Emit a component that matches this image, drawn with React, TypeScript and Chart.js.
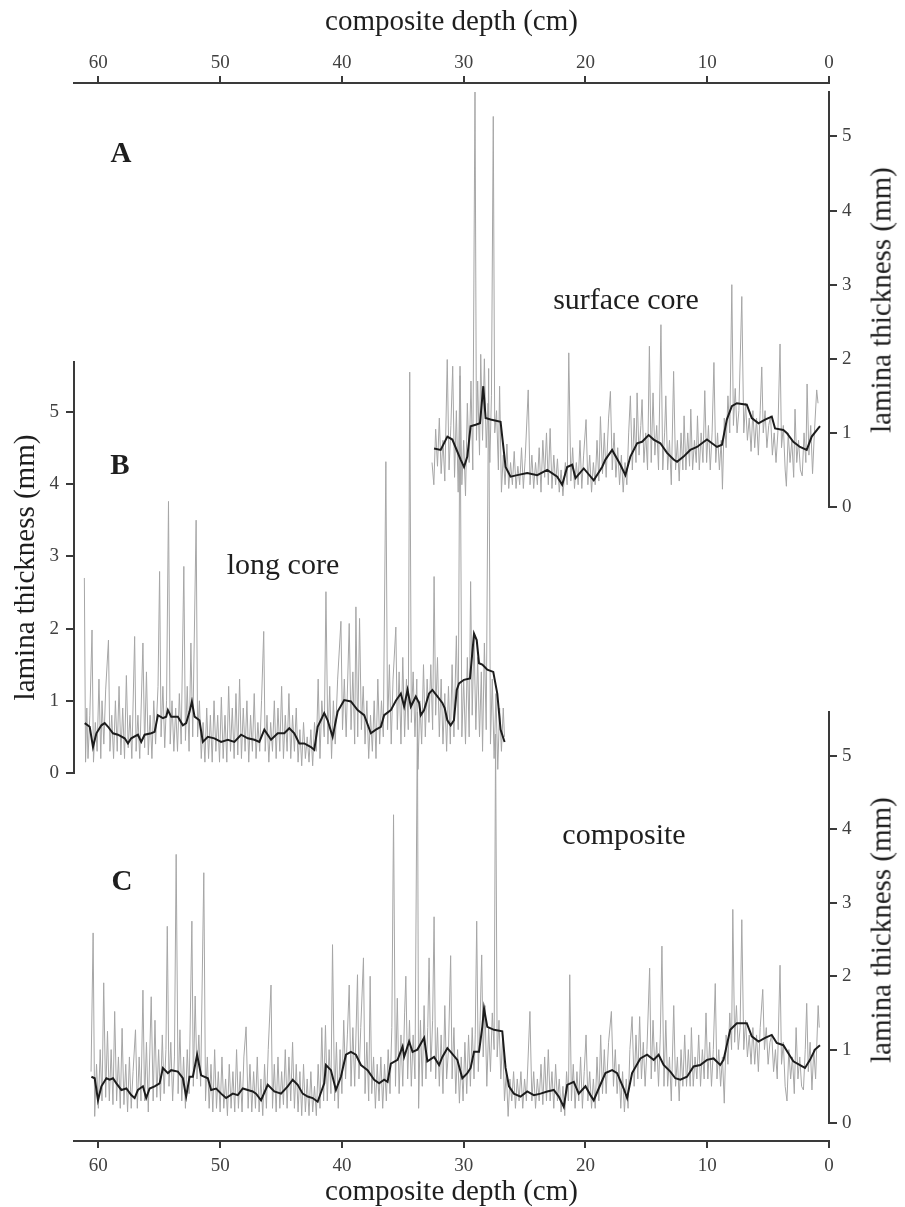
import React, { useEffect, useRef } from "react";
import { Chart, registerables } from "chart.js";

Chart.register(...registerables);

// ---------------- data ----------------
const depthTicks = [0, 10, 20, 30, 40, 50, 60];
const thicknessTicks = [0, 1, 2, 3, 4, 5];
const depthMax = 62;

// A: surface core, smoothed (black)
const surfaceSmooth: [number, number][] = [
  [32.43, 0.79], [31.89, 0.77], [31.34, 0.95], [30.93, 0.91], [30.25, 0.64], [29.97, 0.54], [29.7, 0.68],
  [29.43, 1.09], [29.02, 1.11], [28.66, 1.13], [28.39, 1.63], [28.2, 1.2], [27.79, 1.18], [26.97, 1.15],
  [26.56, 0.54], [26.15, 0.41], [25.6, 0.43], [24.78, 0.46], [23.96, 0.43], [23.14, 0.5], [22.32, 0.41],
  [21.91, 0.3], [21.5, 0.54], [21.09, 0.57], [20.82, 0.39], [20.14, 0.52], [19.32, 0.36], [18.63, 0.54],
  [18.36, 0.64], [17.81, 0.77], [17.13, 0.57], [16.72, 0.43], [16.31, 0.68], [15.76, 0.86], [15.35, 0.88],
  [14.81, 0.97], [14.4, 0.91], [13.85, 0.86], [13.3, 0.73], [12.76, 0.64], [12.48, 0.61], [11.94, 0.68],
  [11.39, 0.77], [10.84, 0.81], [10.02, 0.91], [9.61, 0.86], [9.2, 0.81], [8.79, 0.84], [8.39, 1.18],
  [7.98, 1.36], [7.57, 1.4], [6.75, 1.38], [6.34, 1.2], [5.79, 1.13], [5.25, 1.18], [4.7, 1.22],
  [4.43, 1.06], [3.75, 1.04], [3.47, 1.0], [2.93, 0.88], [2.38, 0.81], [1.83, 0.77], [1.42, 0.95], [0.74, 1.09],
];

// A: surface core, raw laminae (grey)
const surfaceRaw: [number, number][] = [
  [32.6, 0.6], [32.45, 0.3], [32.3, 1.05], [32.15, 0.55], [32.0, 1.2], [31.85, 0.45], [31.7, 0.9], [31.55, 0.35],
  [31.35, 1.99], [31.2, 0.5], [31.05, 1.1], [30.9, 1.9], [30.75, 0.4], [30.6, 1.3], [30.45, 0.2], [30.3, 1.9],
  [30.15, 0.3], [30.0, 0.9], [29.85, 0.15], [29.7, 1.4], [29.55, 0.6], [29.4, 1.7], [29.25, 0.5], [29.07, 5.66],
  [28.95, 0.9], [28.85, 1.7], [28.7, 0.7], [28.6, 2.06], [28.45, 0.9], [28.3, 2.0], [28.15, 0.8], [28.0, 1.4],
  [27.85, 0.6], [27.72, 1.5], [27.57, 5.27], [27.45, 1.0], [27.3, 1.3], [27.15, 0.5], [27.05, 1.63], [26.9, 0.2],
  [26.75, 0.7], [26.6, 0.3], [26.45, 0.85], [26.3, 0.25], [26.15, 0.6], [26.0, 0.3], [25.85, 0.75], [25.7, 0.25],
  [25.55, 0.55], [25.4, 0.3], [25.25, 0.8], [25.1, 0.25], [24.95, 0.65], [24.7, 1.58], [24.55, 0.3], [24.4, 0.7],
  [24.25, 0.25], [24.1, 0.6], [23.95, 0.3], [23.8, 0.8], [23.65, 0.2], [23.5, 0.9], [23.35, 0.4], [23.2, 1.0],
  [23.05, 0.3], [22.9, 1.06], [22.75, 0.25], [22.6, 0.7], [22.45, 0.3], [22.3, 0.65], [22.15, 0.2], [22.0, 0.5],
  [21.85, 0.15], [21.65, 0.6], [21.5, 0.3], [21.37, 2.08], [21.2, 0.35], [21.05, 0.8], [20.9, 0.25], [20.75, 0.6],
  [20.6, 0.3], [20.45, 0.9], [20.3, 0.25], [20.15, 0.7], [19.95, 1.18], [19.8, 0.3], [19.65, 0.7], [19.5, 0.2],
  [19.35, 0.6], [19.2, 0.3], [19.05, 0.9], [18.9, 0.35], [18.77, 1.22], [18.6, 0.45], [18.45, 1.0], [18.3, 0.4],
  [18.1, 1.2], [17.95, 1.56], [17.8, 0.5], [17.65, 1.0], [17.5, 0.4], [17.35, 0.8], [17.2, 0.3], [17.05, 0.7],
  [16.9, 0.2], [16.75, 0.6], [16.6, 0.3], [16.45, 1.0], [16.31, 1.5], [16.15, 0.5], [16.0, 1.2], [15.85, 0.6],
  [15.76, 1.54], [15.6, 0.7], [15.45, 1.1], [15.35, 1.45], [15.2, 0.6], [15.05, 1.0], [14.9, 0.5], [14.75, 2.17],
  [14.6, 0.6], [14.45, 1.54], [14.3, 0.7], [14.15, 1.1], [14.0, 0.5], [13.8, 2.46], [13.65, 0.5], [13.5, 1.0],
  [13.4, 1.5], [13.25, 0.5], [13.1, 0.9], [12.95, 0.3], [12.76, 1.83], [12.6, 0.5], [12.45, 0.9], [12.3, 0.35],
  [12.15, 1.0], [12.0, 0.5], [11.9, 1.23], [11.75, 0.5], [11.6, 1.0], [11.45, 0.55], [11.35, 1.32], [11.2, 0.5],
  [11.05, 0.9], [10.9, 0.6], [10.8, 1.23], [10.65, 0.5], [10.5, 1.0], [10.35, 0.6], [10.2, 1.57], [10.05, 0.6],
  [9.9, 1.1], [9.75, 0.5], [9.6, 1.0], [9.45, 1.95], [9.3, 0.6], [9.15, 1.0], [9.0, 0.5], [8.85, 0.9],
  [8.75, 0.24], [8.6, 1.2], [8.45, 0.8], [8.3, 1.5], [8.15, 1.0], [7.98, 3.0], [7.85, 1.1], [7.7, 1.6],
  [7.55, 1.0], [7.4, 1.3], [7.16, 2.84], [7.0, 1.0], [6.85, 1.4], [6.7, 0.9], [6.55, 1.2], [6.4, 0.75],
  [6.25, 1.3], [6.1, 0.8], [5.95, 1.2], [5.8, 0.7], [5.65, 1.3], [5.52, 1.89], [5.4, 1.0], [5.25, 1.3],
  [5.1, 0.8], [4.95, 1.1], [4.8, 1.23], [4.65, 0.7], [4.5, 1.0], [4.35, 0.6], [4.2, 1.0], [4.02, 2.2],
  [3.9, 0.8], [3.75, 1.1], [3.6, 0.5], [3.5, 0.28], [3.35, 1.0], [3.2, 0.6], [3.05, 0.9], [2.9, 0.4],
  [2.79, 1.32], [2.65, 0.6], [2.5, 0.9], [2.35, 0.5], [2.2, 0.42], [2.05, 1.0], [1.9, 0.6], [1.8, 1.66],
  [1.65, 0.7], [1.5, 1.1], [1.35, 0.45], [1.2, 1.0], [1.01, 1.58], [0.9, 1.4],
];

// B: long core, smoothed (black)
const longSmooth: [number, number][] = [
  [61.12, 0.69], [60.71, 0.64], [60.44, 0.36], [60.16, 0.55], [59.75, 0.66], [59.48, 0.69], [59.2, 0.64],
  [58.8, 0.55], [58.39, 0.53], [57.84, 0.48], [57.57, 0.41], [57.3, 0.48], [56.75, 0.53], [56.48, 0.43],
  [56.2, 0.53], [55.66, 0.55], [55.38, 0.57], [55.11, 0.8], [54.7, 0.76], [54.43, 0.78], [54.29, 0.87],
  [54.02, 0.78], [53.47, 0.78], [53.06, 0.66], [52.79, 0.69], [52.51, 0.85], [52.32, 0.99], [52.1, 0.78],
  [51.7, 0.73], [51.42, 0.43], [51.01, 0.5], [50.47, 0.48], [49.92, 0.43], [49.37, 0.46], [48.83, 0.43],
  [48.28, 0.53], [47.73, 0.48], [47.19, 0.46], [46.78, 0.43], [46.37, 0.6], [45.82, 0.46], [45.27, 0.55],
  [44.73, 0.55], [44.32, 0.62], [43.91, 0.55], [43.5, 0.41], [43.09, 0.41], [42.54, 0.36], [42.27, 0.32],
  [41.99, 0.64], [41.45, 0.83], [41.17, 0.73], [40.76, 0.5], [40.35, 0.85], [39.81, 1.01], [39.26, 0.99],
  [38.71, 0.87], [38.17, 0.8], [37.62, 0.55], [37.21, 0.6], [36.8, 0.64], [36.53, 0.8], [35.98, 0.87],
  [35.57, 1.0], [35.16, 1.1], [34.89, 0.92], [34.61, 1.15], [34.34, 0.92], [33.93, 1.06], [33.66, 0.97],
  [33.52, 0.8], [33.25, 0.87], [32.84, 1.1], [32.57, 1.15], [32.16, 1.06], [31.75, 0.97], [31.56, 0.9],
  [31.34, 0.73], [31.07, 0.66], [30.8, 0.73], [30.57, 1.15], [30.38, 1.24], [29.98, 1.29], [29.48, 1.31],
  [29.15, 1.93], [28.93, 1.84], [28.74, 1.52], [28.47, 1.5], [28.06, 1.43], [27.57, 1.4], [27.24, 1.1],
  [26.97, 0.6], [26.64, 0.43],
];

// B: long core, raw laminae (grey)
const longRaw: [number, number][] = [
  [61.15, 2.7], [61.05, 0.15], [60.95, 0.9], [60.85, 0.2], [60.7, 0.8], [60.52, 1.98], [60.4, 0.15], [60.25, 0.7],
  [60.1, 0.3], [59.95, 1.3], [59.8, 0.2], [59.7, 1.0], [59.55, 0.4], [59.4, 1.15], [59.17, 1.84], [59.05, 0.3],
  [58.9, 0.8], [58.75, 0.2], [58.6, 1.0], [58.45, 0.3], [58.3, 1.2], [58.15, 0.25], [58.0, 0.9], [57.85, 0.2],
  [57.7, 1.35], [57.55, 0.35], [57.4, 0.8], [57.25, 0.2], [57.02, 1.89], [56.9, 0.3], [56.75, 0.8], [56.6, 0.2],
  [56.34, 1.8], [56.2, 0.35], [56.05, 1.4], [55.9, 0.25], [55.75, 0.8], [55.6, 0.2], [55.45, 1.0], [55.3, 0.4],
  [55.1, 1.2], [54.97, 2.79], [54.85, 0.5], [54.7, 1.2], [54.55, 0.35], [54.4, 1.0], [54.24, 3.76], [54.1, 0.4],
  [53.95, 1.0], [53.8, 0.3], [53.65, 0.9], [53.5, 0.3], [53.35, 1.1], [53.2, 0.4], [52.98, 2.86], [52.85, 0.45],
  [52.7, 1.2], [52.55, 0.3], [52.4, 1.8], [52.25, 0.5], [51.97, 3.5], [51.85, 0.5], [51.7, 1.0], [51.55, 0.2],
  [51.4, 0.7], [51.25, 0.15], [51.1, 0.9], [50.95, 0.2], [50.8, 0.8], [50.65, 0.15], [50.5, 1.0], [50.35, 0.3],
  [50.2, 0.8], [50.05, 0.15], [49.9, 1.05], [49.75, 0.2], [49.6, 0.8], [49.45, 0.15], [49.3, 1.2], [49.15, 0.3],
  [49.0, 0.9], [48.85, 0.2], [48.7, 1.1], [48.55, 0.25], [48.4, 1.3], [48.25, 0.2], [48.1, 0.9], [47.95, 0.3],
  [47.8, 1.0], [47.65, 0.15], [47.5, 0.8], [47.35, 0.3], [47.2, 1.1], [47.05, 0.2], [46.9, 0.7], [46.75, 0.3],
  [46.6, 1.0], [46.42, 1.96], [46.3, 0.3], [46.15, 0.8], [46.0, 0.15], [45.85, 0.7], [45.7, 0.3], [45.55, 1.0],
  [45.4, 0.2], [45.25, 0.9], [45.1, 0.3], [44.95, 1.2], [44.8, 0.2], [44.65, 0.8], [44.5, 0.3], [44.35, 1.1],
  [44.2, 0.2], [44.05, 0.8], [43.9, 0.3], [43.75, 0.9], [43.6, 0.15], [43.45, 0.6], [43.3, 0.1], [43.15, 0.7],
  [43.0, 0.2], [42.85, 0.5], [42.7, 0.15], [42.55, 0.6], [42.4, 0.1], [42.25, 0.7], [42.1, 0.3], [41.95, 1.3],
  [41.8, 0.2], [41.65, 1.0], [41.45, 0.5], [41.31, 2.51], [41.15, 0.4], [41.0, 1.2], [40.85, 0.2], [40.7, 1.0],
  [40.55, 0.4], [40.35, 1.3], [40.08, 2.1], [39.95, 0.6], [39.8, 1.3], [39.65, 0.5], [39.4, 2.07], [39.25, 0.6],
  [39.1, 1.4], [38.95, 0.4], [38.85, 2.3], [38.7, 0.5], [38.55, 2.14], [38.4, 0.6], [38.25, 1.2], [38.1, 0.4],
  [37.95, 1.0], [37.8, 0.2], [37.65, 0.8], [37.5, 0.3], [37.35, 1.0], [37.2, 0.2], [37.05, 1.3], [36.9, 0.4],
  [36.75, 1.0], [36.6, 0.5], [36.39, 4.31], [36.25, 0.6], [36.1, 1.5], [35.95, 0.4], [35.8, 1.3], [35.57, 2.02],
  [35.45, 0.6], [35.3, 1.4], [35.15, 0.4], [35.0, 1.6], [34.85, 0.5], [34.7, 1.3], [34.55, 0.6], [34.43, 5.55],
  [34.3, 0.7], [34.15, 1.4], [34.0, 0.5], [33.85, 1.3], [33.75, 0.05], [33.6, 1.0], [33.45, 0.4], [33.3, 1.5],
  [33.15, 0.5], [33.0, 1.3], [32.85, 0.7], [32.7, 1.5], [32.55, 0.6], [32.43, 2.72], [32.3, 0.8], [32.15, 1.6],
  [32.0, 0.5], [31.85, 1.3], [31.7, 0.4], [31.55, 1.1], [31.4, 0.3], [31.25, 1.2], [31.1, 0.4], [30.95, 1.5],
  [30.8, 0.5], [30.6, 1.9], [30.45, 0.6], [30.3, 5.5], [30.15, 0.5], [30.0, 1.3], [29.85, 0.4], [29.7, 1.6],
  [29.55, 0.5], [29.43, 2.65], [29.3, 0.8], [29.15, 1.9], [29.0, 0.6], [28.85, 1.6], [28.7, 0.5], [28.55, 1.4],
  [28.45, 0.3], [28.3, 1.8], [28.15, 0.6], [27.95, 5.6], [27.8, 0.4], [27.65, 1.3], [27.5, 0.2], [27.35, 1.1],
  [27.2, 0.05], [27.05, 0.9], [26.9, 0.3], [26.75, 0.9], [26.65, 0.5],
];

// C: composite, smoothed (black)
const compositeSmooth: [number, number][] = [
  [60.57, 0.63], [60.3, 0.61], [60.03, 0.31], [59.75, 0.5], [59.34, 0.61], [59.07, 0.59], [58.8, 0.61],
  [58.52, 0.54], [58.11, 0.45], [57.7, 0.47], [57.3, 0.38], [57.02, 0.34], [56.75, 0.45], [56.34, 0.5],
  [56.07, 0.34], [55.79, 0.47], [55.38, 0.5], [54.97, 0.54], [54.7, 0.75], [54.29, 0.68], [54.02, 0.72],
  [53.47, 0.7], [53.06, 0.61], [52.79, 0.36], [52.51, 0.63], [52.24, 0.63], [51.89, 0.93], [51.56, 0.65],
  [51.01, 0.61], [50.74, 0.45], [50.33, 0.47], [49.92, 0.4], [49.51, 0.34], [48.96, 0.4], [48.55, 0.38],
  [48.14, 0.47], [47.73, 0.45], [47.32, 0.43], [47.05, 0.4], [46.64, 0.31], [46.09, 0.52], [45.55, 0.43],
  [45.0, 0.4], [44.45, 0.5], [44.04, 0.59], [43.63, 0.52], [43.22, 0.4], [42.81, 0.36], [42.4, 0.34],
  [41.99, 0.29], [41.45, 0.54], [41.31, 0.79], [40.9, 0.72], [40.49, 0.45], [40.08, 0.63], [39.67, 0.93],
  [39.26, 0.97], [38.85, 0.93], [38.44, 0.79], [37.89, 0.72], [37.35, 0.59], [36.94, 0.54], [36.53, 0.59],
  [36.25, 0.56], [35.98, 0.81], [35.43, 0.86], [35.02, 1.04], [34.89, 0.9], [34.48, 1.11], [34.2, 0.97],
  [33.8, 1.0], [33.25, 1.16], [32.98, 0.84], [32.43, 0.9], [32.02, 0.79], [31.75, 0.9], [31.34, 1.02],
  [31.07, 0.97], [30.52, 0.86], [30.11, 0.61], [29.7, 0.68], [29.43, 0.75], [29.15, 0.97], [28.74, 0.97],
  [28.47, 1.31], [28.33, 1.56], [28.06, 1.31], [27.51, 1.27], [26.83, 1.25], [26.56, 0.75], [26.28, 0.5],
  [25.88, 0.4], [25.33, 0.36], [24.78, 0.43], [24.24, 0.38], [23.69, 0.4], [23.14, 0.43], [22.6, 0.45],
  [22.19, 0.36], [21.78, 0.22], [21.5, 0.52], [20.96, 0.56], [20.55, 0.4], [20.0, 0.5], [19.59, 0.38],
  [19.32, 0.31], [18.91, 0.47], [18.36, 0.68], [17.81, 0.72], [17.4, 0.68], [16.86, 0.47], [16.58, 0.34],
  [16.17, 0.68], [15.49, 0.88], [14.94, 0.93], [14.4, 0.86], [13.99, 0.93], [13.58, 0.79], [13.03, 0.7],
  [12.62, 0.61], [12.21, 0.59], [11.66, 0.63], [11.12, 0.77], [10.57, 0.79], [10.02, 0.86], [9.48, 0.88],
  [8.93, 0.79], [8.66, 0.86], [8.11, 1.27], [7.57, 1.36], [6.75, 1.36], [6.34, 1.18], [5.79, 1.11],
  [5.25, 1.16], [4.7, 1.2], [4.29, 1.09], [3.75, 1.06], [3.34, 0.95], [2.93, 0.84], [2.38, 0.79],
  [1.97, 0.75], [1.56, 0.86], [1.15, 1.0], [0.74, 1.06],
];

// C: composite, raw laminae (grey)
const compositeRaw: [number, number][] = [
  [60.6, 0.7], [60.43, 2.59], [60.3, 0.09], [60.15, 0.8], [60.0, 0.2], [59.85, 1.0], [59.7, 0.3], [59.56, 1.91],
  [59.4, 0.35], [59.25, 1.25], [59.1, 0.3], [58.95, 1.0], [58.8, 0.25], [58.66, 1.52], [58.5, 0.3], [58.35, 0.9],
  [58.2, 0.2], [58.05, 1.29], [57.9, 0.25], [57.75, 0.8], [57.6, 0.15], [57.45, 0.9], [57.3, 0.2], [57.15, 0.7],
  [56.95, 1.27], [56.8, 0.2], [56.65, 0.9], [56.5, 0.3], [56.34, 1.81], [56.2, 0.3], [56.05, 1.1], [55.9, 0.15],
  [55.66, 1.72], [55.5, 0.3], [55.35, 1.4], [55.2, 0.35], [55.05, 1.0], [54.9, 0.3], [54.75, 1.2], [54.6, 0.4],
  [54.45, 1.0], [54.34, 2.68], [54.2, 0.5], [54.05, 1.1], [53.9, 0.3], [53.75, 0.9], [53.61, 3.66], [53.45, 0.4],
  [53.3, 1.27], [53.15, 0.3], [53.0, 0.9], [52.85, 0.2], [52.7, 1.0], [52.55, 0.4], [52.32, 2.75], [52.2, 0.5],
  [52.05, 1.73], [51.9, 0.6], [51.75, 1.2], [51.6, 0.5], [51.34, 3.41], [51.2, 0.3], [51.05, 0.9], [50.9, 0.2],
  [50.75, 0.8], [50.6, 0.15], [50.45, 1.0], [50.3, 0.2], [50.15, 0.7], [50.0, 0.15], [49.85, 0.9], [49.7, 0.2],
  [49.55, 0.6], [49.4, 0.1], [49.25, 0.8], [49.1, 0.2], [48.95, 0.7], [48.8, 0.15], [48.65, 1.0], [48.5, 0.2],
  [48.35, 0.7], [48.2, 0.15], [48.05, 0.9], [47.87, 1.31], [47.7, 0.2], [47.55, 0.8], [47.4, 0.15], [47.25, 0.7],
  [47.1, 0.2], [46.95, 0.9], [46.8, 0.15], [46.65, 0.6], [46.5, 0.1], [46.35, 0.8], [46.2, 0.2], [46.05, 1.0],
  [45.82, 1.88], [45.7, 0.2], [45.55, 0.8], [45.4, 0.15], [45.25, 0.9], [45.1, 0.2], [44.95, 0.7], [44.8, 0.25],
  [44.65, 1.0], [44.5, 0.2], [44.35, 0.9], [44.2, 0.3], [44.05, 1.1], [43.9, 0.2], [43.75, 0.8], [43.6, 0.15],
  [43.45, 0.7], [43.3, 0.1], [43.15, 0.8], [43.0, 0.15], [42.85, 0.6], [42.7, 0.1], [42.55, 0.7], [42.4, 0.15],
  [42.25, 0.5], [42.1, 0.1], [41.95, 0.8], [41.8, 0.2], [41.65, 1.3], [41.5, 0.3], [41.35, 1.33], [41.2, 0.3],
  [41.05, 1.0], [40.9, 0.4], [40.77, 2.43], [40.6, 0.3], [40.45, 1.1], [40.3, 0.2], [40.15, 1.0], [40.0, 0.4],
  [39.85, 1.4], [39.7, 0.6], [39.55, 1.2], [39.4, 1.88], [39.25, 0.5], [39.1, 1.3], [38.95, 0.5], [38.72, 2.02],
  [38.6, 0.6], [38.45, 1.3], [38.23, 2.25], [38.1, 0.4], [37.95, 1.1], [37.8, 0.3], [37.68, 2.0], [37.55, 0.4],
  [37.4, 0.9], [37.25, 0.2], [37.1, 0.8], [36.95, 0.3], [36.8, 0.9], [36.65, 0.2], [36.5, 0.8], [36.35, 0.3],
  [36.2, 1.0], [36.05, 0.4], [35.9, 1.3], [35.76, 4.2], [35.6, 0.5], [35.45, 1.7], [35.3, 0.4], [35.15, 1.2],
  [35.0, 0.5], [34.85, 1.5], [34.75, 2.0], [34.6, 0.6], [34.45, 1.4], [34.3, 0.5], [34.15, 1.2], [34.0, 0.6],
  [33.8, 5.6], [33.7, 0.2], [33.55, 1.4], [33.4, 0.5], [33.25, 1.6], [33.1, 0.6], [32.95, 1.3], [32.84, 2.25],
  [32.7, 0.7], [32.55, 1.4], [32.43, 2.81], [32.3, 0.6], [32.15, 1.3], [32.0, 0.5], [31.85, 1.2], [31.7, 0.4],
  [31.55, 1.6], [31.4, 0.6], [31.25, 1.0], [31.07, 2.28], [30.95, 0.6], [30.8, 1.3], [30.65, 0.4], [30.5, 1.0],
  [30.35, 0.27], [30.2, 0.9], [30.05, 0.3], [29.9, 1.1], [29.75, 0.4], [29.6, 1.2], [29.45, 0.5], [29.3, 1.3],
  [29.15, 0.6], [29.05, 1.2], [28.93, 2.75], [28.8, 0.7], [28.65, 1.4], [28.52, 2.29], [28.4, 0.9], [28.25, 1.6],
  [28.1, 0.5], [27.95, 1.3], [27.8, 0.7], [27.65, 1.5], [27.5, 1.0], [27.38, 5.3], [27.25, 0.9], [27.1, 1.4],
  [26.95, 0.6], [26.8, 1.2], [26.65, 0.3], [26.5, 0.7], [26.35, 0.09], [26.2, 0.6], [26.05, 0.3], [25.9, 0.7],
  [25.75, 0.2], [25.6, 0.6], [25.45, 0.3], [25.3, 0.7], [25.15, 0.2], [25.0, 0.6], [24.85, 0.3], [24.56, 1.52],
  [24.4, 0.3], [24.25, 0.7], [24.1, 0.2], [23.95, 0.6], [23.8, 0.3], [23.65, 0.8], [23.5, 0.25], [23.35, 0.9],
  [23.2, 0.3], [23.05, 1.0], [22.9, 0.3], [22.75, 0.7], [22.6, 0.2], [22.45, 0.8], [22.3, 0.3], [22.15, 0.6],
  [22.0, 0.15], [21.85, 0.5], [21.7, 0.1], [21.55, 0.7], [21.4, 0.3], [21.29, 2.02], [21.15, 0.3], [21.0, 0.8],
  [20.85, 0.2], [20.7, 0.7], [20.55, 0.3], [20.4, 0.9], [20.25, 0.2], [20.1, 0.7], [19.95, 1.2], [19.8, 0.3],
  [19.65, 0.7], [19.5, 0.2], [19.35, 0.6], [19.2, 0.2], [19.05, 0.9], [18.9, 0.3], [18.75, 1.2], [18.6, 0.4],
  [18.45, 1.0], [18.3, 0.4], [18.1, 1.1], [17.87, 1.52], [17.7, 0.5], [17.55, 1.0], [17.4, 0.4], [17.25, 0.8],
  [17.1, 0.2], [16.95, 0.7], [16.8, 0.15], [16.65, 0.6], [16.5, 0.2], [16.35, 1.0], [16.17, 1.45], [16.0, 0.5],
  [15.85, 1.2], [15.7, 0.6], [15.55, 1.45], [15.4, 0.6], [15.25, 1.1], [15.1, 0.5], [14.95, 1.0], [14.73, 2.11],
  [14.6, 0.6], [14.45, 1.4], [14.3, 0.7], [14.15, 1.1], [14.0, 0.5], [13.85, 1.2], [13.72, 2.41], [13.55, 0.5],
  [13.4, 1.4], [13.25, 0.5], [13.1, 0.9], [12.95, 0.3], [12.75, 1.6], [12.6, 0.5], [12.45, 0.9], [12.3, 0.3],
  [12.15, 1.0], [12.0, 0.5], [11.85, 1.2], [11.7, 0.5], [11.55, 1.0], [11.4, 0.5], [11.3, 1.3], [11.15, 0.5],
  [11.0, 0.9], [10.85, 0.6], [10.7, 1.2], [10.55, 0.5], [10.4, 1.0], [10.25, 0.6], [10.1, 1.5], [9.95, 0.6],
  [9.8, 1.1], [9.65, 0.5], [9.5, 1.0], [9.34, 1.9], [9.2, 0.6], [9.05, 1.0], [8.9, 0.5], [8.75, 0.9],
  [8.6, 0.27], [8.45, 1.2], [8.3, 0.8], [8.15, 1.5], [8.0, 1.0], [7.9, 2.91], [7.75, 1.1], [7.6, 1.6],
  [7.45, 1.0], [7.3, 1.3], [7.16, 2.77], [7.0, 1.0], [6.85, 1.4], [6.7, 0.9], [6.55, 1.2], [6.4, 0.8],
  [6.25, 1.3], [6.1, 0.8], [5.95, 1.2], [5.8, 0.7], [5.65, 1.3], [5.44, 1.82], [5.3, 1.0], [5.15, 1.3],
  [5.0, 0.8], [4.85, 1.1], [4.7, 1.2], [4.55, 0.7], [4.4, 1.0], [4.25, 0.6], [4.02, 2.15], [3.9, 0.8],
  [3.75, 1.1], [3.6, 0.5], [3.45, 0.3], [3.3, 1.0], [3.15, 0.6], [3.0, 0.9], [2.85, 0.4], [2.7, 1.3],
  [2.55, 0.6], [2.4, 0.9], [2.25, 0.5], [2.1, 0.45], [1.95, 1.0], [1.83, 1.63], [1.7, 0.7], [1.55, 1.1],
  [1.4, 0.45], [1.25, 1.0], [1.1, 0.6], [0.89, 1.6], [0.8, 1.3],
];

// ---------------- layout & style ----------------
const PAGE_W = 905;
const PAGE_H = 1207;
const PLOT_LEFT = 74;
const PLOT_RIGHT = 829;
const TOP_AXIS_Y = 83;
const BOTTOM_AXIS_Y = 1141;
const FONT = "'Liberation Serif', 'Times New Roman', serif";
const AXIS_COLOR = "#3a3a3a";
const TICK_COLOR = "#404040";
const TEXT_COLOR = "#1e1e1e";
const GREY = "#a6a6a6";
const BLACK = "#1c1c1c";
const RIGHT_AXIS_W = 40;

const fixedTicks = (values: number[]) => (scale: any) => {
  scale.ticks = values.map((v) => ({ value: v }));
};

const toPoints = (arr: [number, number][]) => arr.map(([x, y]) => ({ x, y }));

function yAxis(position: "left" | "right", max: number, width: number, title: any) {
  return {
    type: "linear",
    position,
    min: 0,
    max,
    afterBuildTicks: fixedTicks(thicknessTicks),
    afterFit: (s: any) => {
      s.width = width;
    },
    ticks: {
      font: { family: FONT, size: 19 },
      color: TICK_COLOR,
      padding: position === "left" ? 7 : 5,
    },
    grid: {
      display: true,
      drawOnChartArea: false,
      drawTicks: true,
      tickLength: 8,
      color: AXIS_COLOR,
      lineWidth: 2,
    },
    border: { display: true, color: AXIS_COLOR, width: 2 },
    title,
  };
}

function panelConfig(p: {
  raw: [number, number][];
  smooth: [number, number][];
  side: "left" | "right";
  top: number;
  bottom: number;
  yMax: number;
}) {
  const leftTitle = {
    display: true,
    text: "lamina thickness (mm)",
    font: { family: FONT, size: 29 },
    color: TEXT_COLOR,
    padding: { top: 9, bottom: 0 },
  };
  const padding =
    p.side === "left"
      ? { left: 0, right: PAGE_W - PLOT_RIGHT, top: p.top, bottom: PAGE_H - p.bottom }
      : { left: PLOT_LEFT, right: PAGE_W - PLOT_RIGHT - RIGHT_AXIS_W, top: p.top, bottom: PAGE_H - p.bottom };
  return {
    type: "line",
    data: {
      datasets: [
        {
          data: toPoints(p.smooth),
          borderColor: BLACK,
          borderWidth: 2,
          pointRadius: 0,
          tension: 0,
        },
        {
          data: toPoints(p.raw),
          borderColor: GREY,
          borderWidth: 1,
          pointRadius: 0,
          tension: 0,
        },
      ],
    },
    options: {
      animation: false,
      responsive: false,
      devicePixelRatio: 1,
      events: [],
      layout: { padding },
      plugins: { legend: { display: false }, tooltip: { enabled: false } },
      scales: {
        x: { type: "linear", min: 0, max: depthMax, reverse: true, display: false },
        y: yAxis(p.side, p.yMax, p.side === "left" ? PLOT_LEFT : RIGHT_AXIS_W, p.side === "left" ? leftTitle : { display: false }),
      },
    },
  };
}

function depthAxis(position: "top" | "bottom", size: number) {
  return {
    type: "linear",
    position,
    min: 0,
    max: depthMax,
    reverse: true,
    afterBuildTicks: fixedTicks(depthTicks),
    afterFit: (s: any) => {
      s.height = size;
    },
    ticks: {
      font: { family: FONT, size: 19 },
      color: TICK_COLOR,
      padding: position === "top" ? 2 : 7,
      maxRotation: 0,
    },
    grid: {
      display: true,
      drawOnChartArea: false,
      drawTicks: true,
      tickLength: 7,
      color: AXIS_COLOR,
      lineWidth: 2,
    },
    border: { display: true, color: AXIS_COLOR, width: 2 },
    title: {
      display: true,
      text: "composite depth (cm)",
      font: { family: FONT, size: 29, lineHeight: position === "top" ? 1.2 : 1 },
      color: TEXT_COLOR,
      padding: position === "top" ? { top: 5, bottom: 0 } : { top: 0, bottom: 0 },
    },
  };
}

const axesConfig = {
  type: "line",
  data: { datasets: [] },
  options: {
    animation: false,
    responsive: false,
    devicePixelRatio: 1,
    events: [],
    layout: { padding: { left: PLOT_LEFT, right: PAGE_W - PLOT_RIGHT, top: 0, bottom: 0 } },
    plugins: { legend: { display: false }, tooltip: { enabled: false } },
    scales: {
      x: depthAxis("top", TOP_AXIS_Y),
      x2: depthAxis("bottom", PAGE_H - BOTTOM_AXIS_Y),
      y: { display: false, min: 0, max: 1 },
    },
  },
};

const panels = [
  { raw: longRaw, smooth: longSmooth, side: "left" as const, top: 362, bottom: 773, yMax: 5.69 },
  { raw: surfaceRaw, smooth: surfaceSmooth, side: "right" as const, top: 92, bottom: 507, yMax: 5.6 },
  { raw: compositeRaw, smooth: compositeSmooth, side: "right" as const, top: 712, bottom: 1123, yMax: 5.6 },
];

const canvasStyle: React.CSSProperties = {
  position: "absolute",
  left: 0,
  top: 0,
  width: PAGE_W,
  height: PAGE_H,
  pointerEvents: "none",
};

function Text(props: { cx: number; base: number; size: number; bold?: boolean; children: string }) {
  return (
    <div
      style={{
        position: "absolute",
        left: props.cx,
        top: props.base - 0.8375 * props.size,
        transform: "translateX(-50%)",
        fontFamily: FONT,
        fontSize: props.size,
        lineHeight: `${props.size}px`,
        fontWeight: props.bold ? 700 : 400,
        color: TEXT_COLOR,
        whiteSpace: "nowrap",
      }}
    >
      {props.children}
    </div>
  );
}

function RotatedTitle(props: { cx: number; cy: number; children: string }) {
  return (
    <div
      style={{
        position: "absolute",
        left: props.cx,
        top: props.cy,
        transform: "translate(-50%, -50%) rotate(-90deg)",
        fontFamily: FONT,
        fontSize: 29,
        lineHeight: "29px",
        color: TEXT_COLOR,
        whiteSpace: "nowrap",
      }}
    >
      {props.children}
    </div>
  );
}

export default function App() {
  const axesRef = useRef<HTMLCanvasElement | null>(null);
  const bRef = useRef<HTMLCanvasElement | null>(null);
  const aRef = useRef<HTMLCanvasElement | null>(null);
  const cRef = useRef<HTMLCanvasElement | null>(null);

  useEffect(() => {
    const charts: Chart[] = [];
    if (axesRef.current) charts.push(new Chart(axesRef.current, axesConfig as any));
    const refs = [bRef, aRef, cRef];
    panels.forEach((p, i) => {
      const el = refs[i].current;
      if (el) charts.push(new Chart(el, panelConfig(p) as any));
    });
    return () => charts.forEach((c) => c.destroy());
  }, []);

  return (
    <div style={{ position: "absolute", left: 0, top: 0, width: PAGE_W, height: PAGE_H, background: "#fff", overflow: "hidden" }}>
      <canvas ref={axesRef} width={PAGE_W} height={PAGE_H} style={canvasStyle} />
      <canvas ref={bRef} width={PAGE_W} height={PAGE_H} style={canvasStyle} />
      <canvas ref={aRef} width={PAGE_W} height={PAGE_H} style={canvasStyle} />
      <canvas ref={cRef} width={PAGE_W} height={PAGE_H} style={canvasStyle} />
      <Text cx={121} base={162} size={29} bold>A</Text>
      <Text cx={120} base={474} size={29} bold>B</Text>
      <Text cx={122} base={890} size={29} bold>C</Text>
      <Text cx={626} base={309} size={30}>surface core</Text>
      <Text cx={283} base={574} size={30}>long core</Text>
      <Text cx={624} base={844} size={30}>composite</Text>
      <RotatedTitle cx={881} cy={300}>lamina thickness (mm)</RotatedTitle>
      <RotatedTitle cx={881} cy={930}>lamina thickness (mm)</RotatedTitle>
    </div>
  );
}
